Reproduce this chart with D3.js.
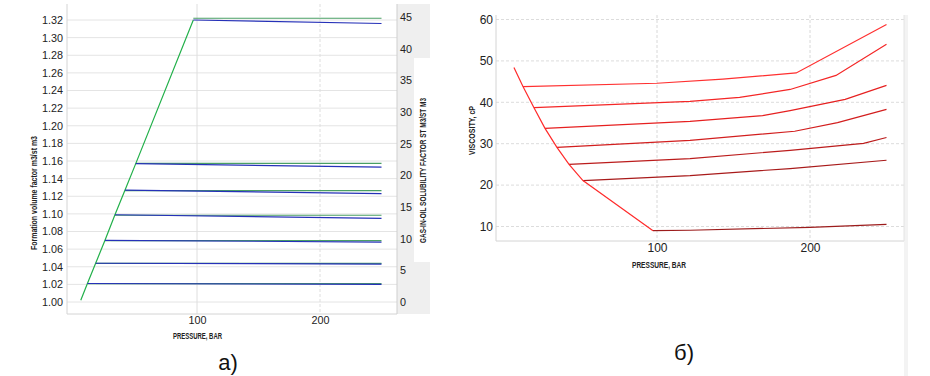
<!DOCTYPE html>
<html><head><meta charset="utf-8">
<script src="https://cdn.jsdelivr.net/npm/d3@7"></script>
<style>body{margin:0;background:#fff}svg{display:block}</style>
</head><body><svg id="c" width="930" height="376"></svg>
<script>
// ---------- data: chart a) ----------
const pressureTicks = [100, 200];
const bvfTicks = [1.00,1.02,1.04,1.06,1.08,1.10,1.12,1.14,1.16,1.18,1.20,1.22,1.24,1.26,1.28,1.30,1.32];
const rsTicks = [0,5,10,15,20,25,30,35,40,45];
const satPressure = [5.5, 10.9, 17.6, 25.2, 33.3, 41.5, 50.2, 97];
const satBo = [1.002, 1.021, 1.044, 1.070, 1.099, 1.127, 1.157, 1.320];
const bubblePressure = [10.9, 17.6, 25.2, 33.3, 41.5, 50.2, 97];
const endPressure = [250, 250, 250, 250, 250, 250, 250];
const boBubble = [1.021, 1.044, 1.070, 1.099, 1.127, 1.157, 1.320];
const boEnd = [1.020, 1.043, 1.068, 1.095, 1.123, 1.153, 1.316];
const rsBubble = [2.9, 6.1, 9.7, 13.7, 17.6, 21.9, 44.8];

// ---------- data: chart б) ----------
const viscTicks = [10, 20, 30, 40, 50, 60];
const viscSatP = [6.5, 12.4, 19.6, 26.8, 34.6, 42.5, 51.6, 97.4];
const viscSatV = [48.4, 43.8, 38.7, 33.7, 29.1, 25.0, 21.1, 9.0];
const b1P = [12.4, 100, 143, 191, 250], b1V = [43.8, 44.6, 45.6, 47.1, 58.8];
const b2P = [19.6, 121.6, 154, 187, 217, 250], b2V = [38.7, 40.2, 41.2, 43.1, 46.5, 54.0];
const b3P = [26.8, 121.6, 169, 187, 223, 250], b3V = [33.7, 35.4, 36.8, 38.0, 40.7, 44.1];
const b4P = [34.6, 121.6, 190, 218, 250], b4V = [29.1, 30.8, 33.0, 35.1, 38.3];
const b5P = [42.5, 121.6, 187, 235, 250], b5V = [25.0, 26.4, 28.4, 30.1, 31.5];
const b6P = [51.6, 121.6, 187, 250], b6V = [21.1, 22.3, 24.0, 26.0];
const b7P = [97.4, 121.6, 200, 250], b7V = [9.0, 9.1, 9.8, 10.5];
const branchColors = ["#ff3030", "#f42626", "#e62020", "#d21e1e", "#bb1c1c", "#a81a1a", "#9c1c1c"];

const svg = d3.select("#c");
const TICKFONT = "'Liberation Sans', Arial, sans-serif";
const zip = (a, b) => a.map((v, i) => [v, b[i]]);
const TITLE_SIZE = 8.6;

// ================= chart a) =================
{
  const L = 67, R = 397, T = 4, B = 314;
  const x = d3.scaleLinear().domain([0, 250]).range([74, 381.5]);
  const yL = d3.scaleLinear().domain([1.00, 1.32]).range([302, 20]);
  const yR = d3.scaleLinear().domain([0, 45]).range([302, 17]);
  const g = svg.append("g");

  g.append("rect").attr("x", R).attr("y", T).attr("width", 33).attr("height", B - T).attr("fill", "#efefef");
  g.append("rect").attr("x", 414).attr("y", 58).attr("width", 18).attr("height", 204).attr("fill", "#fff");

  g.append("g").selectAll("line").data(bvfTicks).join("line")
    .attr("x1", L).attr("x2", R).attr("y1", d => yL(d)).attr("y2", d => yL(d))
    .attr("stroke", "#e4e4e4").attr("stroke-width", 1);
  g.append("g").selectAll("line").data(pressureTicks).join("line")
    .attr("x1", d => x(d)).attr("x2", d => x(d)).attr("y1", T).attr("y2", B)
    .attr("stroke", "#dedede").attr("stroke-dasharray", (d, i) => i ? "3,2" : null);

  g.append("line").attr("x1", L).attr("x2", L).attr("y1", T).attr("y2", B).attr("stroke", "#d4d4d4");
  g.append("line").attr("x1", L).attr("x2", R).attr("y1", B).attr("y2", B).attr("stroke", "#d4d4d4");
  g.append("line").attr("x1", R).attr("x2", R).attr("y1", T).attr("y2", B).attr("stroke", "#cfcfcf");

  const axL = d3.axisLeft(yL).tickValues(bvfTicks).tickFormat(d3.format(".2f")).tickSize(0).tickPadding(0);
  const gl = g.append("g").attr("transform", `translate(${L - 4},0)`).call(axL);
  const axR = d3.axisRight(yR).tickValues(rsTicks).tickSize(0).tickPadding(0);
  const gr = g.append("g").attr("transform", `translate(${R + 3},0)`).call(axR);
  const axB = d3.axisBottom(x).tickValues(pressureTicks).tickSize(0).tickPadding(0);
  const gb = g.append("g").attr("transform", `translate(0,${B + 2})`).call(axB);
  [gl, gr, gb].forEach(a => {
    a.select(".domain").remove();
    a.selectAll("text").attr("font-family", TICKFONT).attr("font-size", 10.8).attr("fill", "#222");
  });

  const line = d3.line().x(d => x(d[0]));
  g.append("path").datum(zip(satPressure, satBo))
    .attr("d", line.y(d => yL(d[1]))).attr("fill", "none").attr("stroke", "#22b04a").attr("stroke-width", 1.2);

  bubblePressure.forEach((p, i) => {
    g.append("path").datum([[p, rsBubble[i]], [endPressure[i], rsBubble[i]]])
      .attr("d", d3.line().x(d => x(d[0])).y(d => yR(d[1])))
      .attr("fill", "none").attr("stroke", "#4a9f64").attr("stroke-width", 1.2);
    g.append("path").datum([[p, boBubble[i]], [endPressure[i], boEnd[i]]])
      .attr("d", d3.line().x(d => x(d[0])).y(d => yL(d[1])))
      .attr("fill", "none").attr("stroke", "#2631b8").attr("stroke-width", 1.2);
  });

  g.append("text").attr("transform", "translate(37,193) rotate(-90)").attr("text-anchor", "middle")
    .attr("font-family", TICKFONT).attr("font-weight", "bold").attr("font-size", TITLE_SIZE).attr("fill", "#222")
    .attr("textLength", 114).attr("lengthAdjust", "spacingAndGlyphs")
    .text("Formation volume factor m3/st m3");
  g.append("text").attr("transform", "translate(425.5,170.5) rotate(-90)").attr("text-anchor", "middle")
    .attr("font-family", TICKFONT).attr("font-weight", "bold").attr("font-size", TITLE_SIZE).attr("fill", "#222")
    .attr("textLength", 145).attr("lengthAdjust", "spacingAndGlyphs")
    .text("GAS-IN-OIL SOLUBILITY FACTOR ST M3/ST M3");
  g.append("text").attr("x", 197.5).attr("y", 338.5).attr("text-anchor", "middle")
    .attr("font-family", TICKFONT).attr("font-weight", "bold").attr("font-size", TITLE_SIZE).attr("fill", "#222")
    .attr("textLength", 49).attr("lengthAdjust", "spacingAndGlyphs")
    .text("PRESSURE, BAR");
  g.append("text").attr("x", 228).attr("y", 370).attr("text-anchor", "middle")
    .attr("font-family", TICKFONT).attr("font-size", 22).attr("fill", "#111").text("а)");
}

// ================= chart б) =================
{
  const L = 496, R = 904, T = 15, B = 241;
  const x = d3.scaleLinear().domain([0, 250]).range([504, 886.5]);
  const y = d3.scaleLinear().domain([10, 60]).range([226.5, 19.5]);
  const g = svg.append("g");

  g.append("rect").attr("x", R).attr("y", T).attr("width", 4).attr("height", 376 - T).attr("fill", "#f3f3f3");

  g.append("g").selectAll("line").data(viscTicks).join("line")
    .attr("x1", L).attr("x2", R).attr("y1", d => y(d)).attr("y2", d => y(d))
    .attr("stroke", "#dcdcdc").attr("stroke-dasharray", "3,2");
  g.append("g").selectAll("line").data(pressureTicks).join("line")
    .attr("x1", d => x(d)).attr("x2", d => x(d)).attr("y1", T).attr("y2", B)
    .attr("stroke", "#d8d8d8").attr("stroke-dasharray", "3,2");

  g.append("line").attr("x1", L).attr("x2", L).attr("y1", T).attr("y2", B).attr("stroke", "#d4d4d4");
  g.append("line").attr("x1", L).attr("x2", R).attr("y1", B).attr("y2", B).attr("stroke", "#d4d4d4");
  g.append("line").attr("x1", R).attr("x2", R).attr("y1", T).attr("y2", B).attr("stroke", "#e4e4e4");

  const axL = d3.axisLeft(y).tickValues(viscTicks).tickSize(0).tickPadding(0);
  const gl = g.append("g").attr("transform", `translate(${L - 3},0)`).call(axL);
  const axB = d3.axisBottom(x).tickValues(pressureTicks).tickSize(0).tickPadding(0);
  const gb = g.append("g").attr("transform", `translate(0,${B + 2})`).call(axB);
  [gl, gb].forEach(a => {
    a.select(".domain").remove();
    a.selectAll("text").attr("font-family", TICKFONT).attr("font-size", 12).attr("fill", "#222");
  });

  const line = d3.line().x(d => x(d[0])).y(d => y(d[1]));
  const branches = [[b1P, b1V], [b2P, b2V], [b3P, b3V], [b4P, b4V], [b5P, b5V], [b6P, b6V], [b7P, b7V]];
  branches.forEach(([p, v], i) => {
    g.append("path").datum(zip(p, v)).attr("d", line)
      .attr("fill", "none").attr("stroke", branchColors[i]).attr("stroke-width", 1.2);
  });
  g.append("path").datum(zip(viscSatP, viscSatV)).attr("d", line)
    .attr("fill", "none").attr("stroke", "#ff2b2b").attr("stroke-width", 1.2);

  g.append("text").attr("transform", "translate(475,130.5) rotate(-90)").attr("text-anchor", "middle")
    .attr("font-family", TICKFONT).attr("font-weight", "bold").attr("font-size", TITLE_SIZE).attr("fill", "#222")
    .attr("textLength", 49).attr("lengthAdjust", "spacingAndGlyphs")
    .text("VISCOSITY, cP");
  g.append("text").attr("x", 659).attr("y", 267.5).attr("text-anchor", "middle")
    .attr("font-family", TICKFONT).attr("font-weight", "bold").attr("font-size", TITLE_SIZE).attr("fill", "#222")
    .attr("textLength", 54).attr("lengthAdjust", "spacingAndGlyphs")
    .text("PRESSURE, BAR");
  g.append("text").attr("x", 684).attr("y", 360).attr("text-anchor", "middle")
    .attr("font-family", TICKFONT).attr("font-size", 22).attr("fill", "#111").text("б)");
}
</script></body></html>
